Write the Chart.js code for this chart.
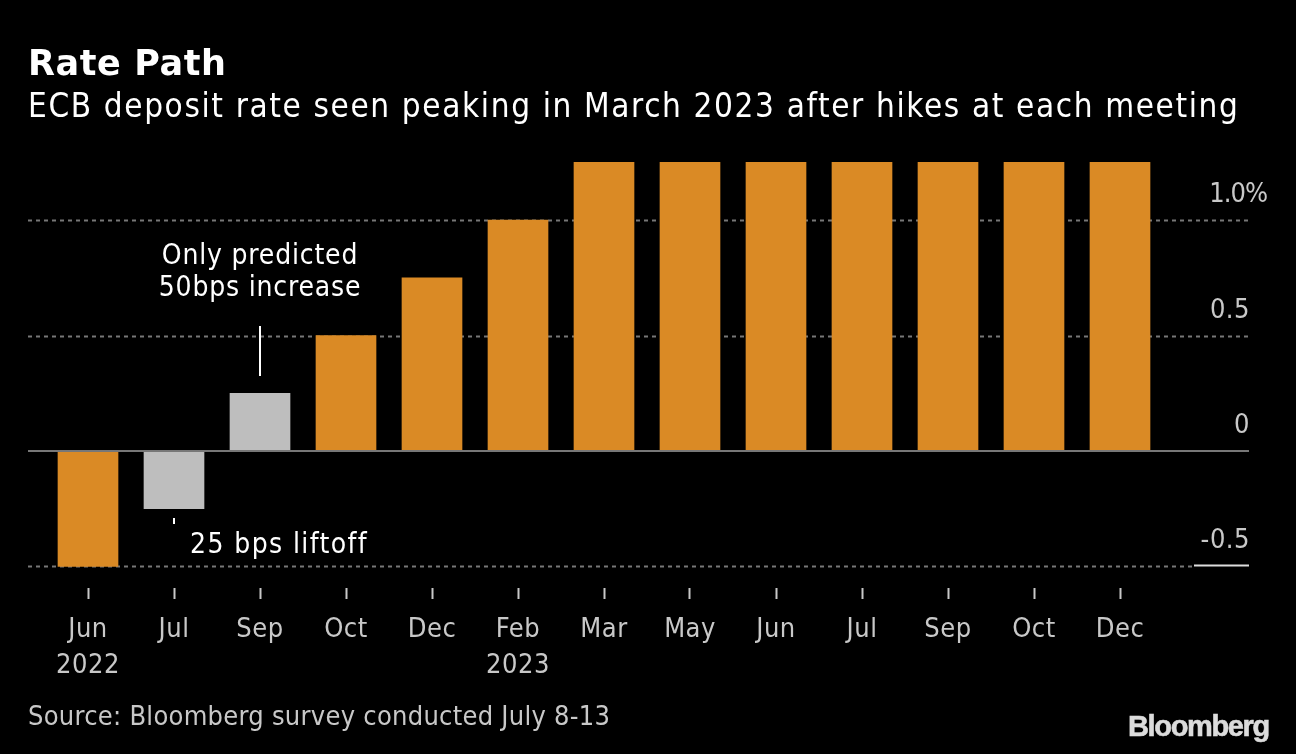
<!DOCTYPE html>
<html>
<head>
<meta charset="utf-8">
<title>Rate Path</title>
<script src="https://cdn.jsdelivr.net/npm/chart.js@4"></script>
<style>
    html, body { margin: 0; background: #000; overflow: hidden; }
    #wrap { position: relative; width: 1296px; height: 754px; }
    .txt { position: absolute; white-space: nowrap; font-family: "DejaVu Sans Condensed", "DejaVu Sans", sans-serif; }
    #title { left: 28px; top: 41px; font-family: "DejaVu Sans", sans-serif; font-size: 35px; line-height: 44px; font-weight: bold; color: #fff; letter-spacing: 0.6px; }
    #subtitle { left: 28px; top: 85px; font-size: 33px; line-height: 42px; color: #fff; letter-spacing: 1.62px; }
    #source { left: 28px; top: 700px; font-size: 27px; line-height: 32px; color: #c8c8c8; letter-spacing: 0.27px; }
    #logo { left: 1128px; top: 708px; font-family: "Liberation Sans", sans-serif; font-size: 29px; line-height: 36px; font-weight: bold; color: #dcdcdc; letter-spacing: -1.35px; -webkit-text-stroke: 0.6px #dcdcdc; }
</style>
</head>
<body>
<div id="wrap">
    <canvas id="rateChart" width="1296" height="754"></canvas>
    <div class="txt" id="title">Rate Path</div>
    <div class="txt" id="subtitle">ECB deposit rate seen peaking in March 2023 after hikes at each meeting</div>
    <div class="txt" id="source">Source: Bloomberg survey conducted July 8-13</div>
    <div class="txt" id="logo">Bloomberg</div>
</div>
<script>
const months = ['Jun', 'Jul', 'Sep', 'Oct', 'Dec', 'Feb', 'Mar', 'May', 'Jun', 'Jul', 'Sep', 'Oct', 'Dec'];
const years = ['2022', '', '', '', '', '2023', '', '', '', '', '', '', ''];
const depositRate = [-0.5, -0.25, 0.25, 0.5, 0.75, 1, 1.25, 1.25, 1.25, 1.25, 1.25, 1.25, 1.25];
const highlighted = [false, true, true, false, false, false, false, false, false, false, false, false, false];
const yTicks = [-0.5, 0, 0.5, 1];
const yTickLabels = ['-0.5', '0', '0.5', '1.0%'];

const ORANGE = '#DA8A25';
const GRAY = '#BEBEBE';
const FONT = '"DejaVu Sans Condensed", "DejaVu Sans", sans-serif';

// grid lines run wider than the bars, so they are drawn by hand from the y scale
const gridPlugin = {
    id: 'gridLines',
    beforeDraw(chart) {
        chart.ctx.letterSpacing = '0.5px';  // picked up by the x tick labels
    },
    beforeDatasetsDraw(chart) {
        const { ctx, scales: { y } } = chart;
        ctx.save();
        ctx.strokeStyle = '#777';
        ctx.lineWidth = 2;
        ctx.setLineDash([4, 4]);
        yTicks.filter(v => v !== 0).forEach(v => {
            const py = Math.round(y.getPixelForValue(v)) + 0.5;
            ctx.beginPath();
            ctx.moveTo(28, py);
            ctx.lineTo(v === -0.5 ? 1194 : 1249, py);
            ctx.stroke();
        });
        ctx.restore();
    },
    afterDatasetsDraw(chart) {
        const { ctx, scales: { x, y } } = chart;
        ctx.save();

        // zero line
        ctx.strokeStyle = '#777';
        ctx.lineWidth = 2;
        ctx.beginPath();
        ctx.moveTo(28, y.getPixelForValue(0));
        ctx.lineTo(1249, y.getPixelForValue(0));
        ctx.stroke();

        // solid end of the -0.5 line
        const low = Math.round(y.getPixelForValue(-0.5)) - 0.5;
        ctx.strokeStyle = '#ddd';
        ctx.beginPath();
        ctx.moveTo(1194, low);
        ctx.lineTo(1249, low);
        ctx.stroke();

        // y labels sit above their lines, the % hangs past the right edge
        ctx.font = '27px ' + FONT;
        ctx.fillStyle = '#c8c8c8';
        ctx.textBaseline = 'alphabetic';
        ctx.textAlign = 'right';
        yTicks.forEach((v, i) => {
            const hasUnit = yTickLabels[i].endsWith('%');
            ctx.letterSpacing = hasUnit ? '-1px' : '0.5px';
            ctx.fillText(yTickLabels[i], hasUnit ? 1267 : 1250, y.getPixelForValue(v) - 18);
        });

        // annotations
        ctx.font = '28px ' + FONT;
        ctx.letterSpacing = '0.8px';
        ctx.fillStyle = '#fff';
        ctx.textAlign = 'center';
        ctx.fillText('Only predicted', x.getPixelForValue(2), 264);
        ctx.fillText('50bps increase', x.getPixelForValue(2), 296);
        ctx.textAlign = 'left';
        ctx.letterSpacing = '1.4px';
        ctx.fillText('25 bps liftoff', 190, 553);

        ctx.strokeStyle = '#fff';
        ctx.lineWidth = 2;
        ctx.beginPath();
        ctx.moveTo(x.getPixelForValue(2), 326);
        ctx.lineTo(x.getPixelForValue(2), 376);
        ctx.moveTo(x.getPixelForValue(1), 518);
        ctx.lineTo(x.getPixelForValue(1), 524);
        ctx.stroke();
        ctx.restore();
    }
};

new Chart(document.getElementById('rateChart').getContext('2d'), {
    type: 'bar',
    data: {
        labels: months,
        datasets: [{
            data: depositRate,
            backgroundColor: highlighted.map(h => h ? GRAY : ORANGE),
            barThickness: 60,
            borderWidth: 0
        }]
    },
    options: {
        responsive: false,
        animation: false,
        layout: { padding: { left: 45, right: 133, top: 162, bottom: 0 } },
        plugins: { legend: { display: false }, tooltip: { enabled: false } },
        scales: {
            x: {
                offset: true,
                border: { display: false },
                grid: { offset: false, drawOnChartArea: false, tickLength: 11, tickWidth: 2, tickColor: '#c8c8c8' },
                ticks: {
                    autoSkip: false,
                    maxRotation: 0,
                    padding: 13,
                    color: '#c8c8c8',
                    font: { family: FONT, size: 27, lineHeight: 1.33 },
                    callback: (v, i) => years[i] ? [months[i], years[i]] : months[i]
                },
                afterFit: scale => { scale.height = 166; }
            },
            y: {
                min: -0.5933,
                max: 1.2516,
                border: { display: false },
                grid: { display: false },
                ticks: { display: false },
                afterFit: scale => { scale.width = 0; }
            }
        }
    },
    plugins: [gridPlugin]
});
</script>
</body>
</html>
